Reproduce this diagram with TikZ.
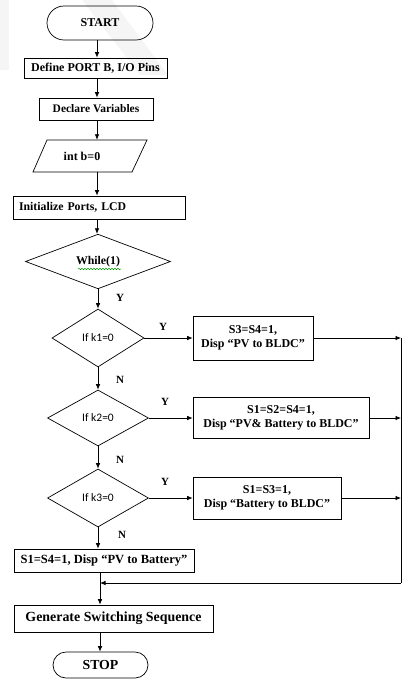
\documentclass[tikz,border=0pt]{standalone}
\usepackage{fontspec}
\setmainfont{Liberation Serif}
\newfontfamily\calfont{Carlito}
\usetikzlibrary{shapes.geometric,arrows.meta,decorations.pathmorphing}
\begin{document}
\begin{tikzpicture}[x=1pt,y=-1pt,
 box/.style={draw,line width=0.7pt,inner sep=0pt,font=\bfseries\fontsize{12}{13.5}\selectfont,align=center},
 term/.style={box,font=\bfseries\fontsize{12}{13}\selectfont},
 dec/.style={draw,diamond,line width=0.7pt,inner sep=0pt,font=\calfont\fontsize{11.5}{12}\selectfont},
 arr/.style={line width=0.7pt,-{Latex[length=5.5pt,width=4.5pt]}},
 lin/.style={line width=0.7pt},
 lbl/.style={font=\bfseries\fontsize{11}{12}\selectfont}]
\useasboundingbox (0,0) rectangle (404,679);
% faint watermark
\fill[gray!8] (0,0) rectangle (9,70);
\fill[gray!8] (82,0) -- (112,0) -- (168,75) -- (140,75) -- cycle;

\coordinate (spine) at (97,0);
\coordinate (lowspine) at (100,0);
\coordinate (bustop) at (401,338);
\coordinate (busbot) at (401,583);

\node[term,minimum width=106pt,minimum height=34pt,rounded corners=17pt] (start) at (100,23) {START};
\node[box,minimum width=143pt,minimum height=20pt] (define) at (95.5,68) {Define PORT B, I/O Pins};
\node[box,minimum width=114pt,minimum height=22pt,font=\bfseries\fontsize{11.5}{12}\selectfont] (declare) at (96,109) {\raisebox{-3pt}{Declare Variables}};
\node[inner sep=0pt,minimum width=80pt,minimum height=32pt,font=\bfseries\fontsize{12}{13}\selectfont] (para) at (82,156) {int b=0};
\draw[lin] (47,140) -- (147,140) -- (132,172) -- (33,172) -- cycle;
\node[box,minimum width=172pt,minimum height=23pt,text width=160pt,align=left,font=\bfseries\fontsize{11.8}{13}\selectfont] (init) at (99,207.5) {Initialize Ports, LCD};
\node[dec,minimum width=145pt,minimum height=51pt,font=\bfseries\fontsize{11.8}{12}\selectfont] (while) at (98,261.5) {While(1)};
\draw[green!60!black,line width=0.5pt,decorate,decoration={snake,amplitude=0.7pt,segment length=3pt}] (78,269) -- (121,269);

\node[dec,minimum width=92pt,minimum height=58pt] (k1) at (98,338) {If k1=0};
\node[dec,minimum width=101pt,minimum height=56pt] (k2) at (98,418) {If k2=0};
\node[dec,minimum width=101pt,minimum height=58pt] (k3) at (98,498) {If k3=0};

\node[box,minimum width=120pt,minimum height=44pt] (b1) at (253,338) {S3=S4=1,\\Disp “PV to BLDC”};
\node[box,minimum width=176pt,minimum height=41pt] (b2) at (281,418) {S1=S2=S4=1,\\Disp “PV\& Battery to BLDC”};
\node[box,minimum width=148pt,minimum height=42pt] (b3) at (267,498) {S1=S3=1,\\Disp “Battery to BLDC”};

\node[box,minimum width=180pt,minimum height=23pt,font=\bfseries\fontsize{12.5}{13}\selectfont] (s4) at (104,560.5) {S1=S4=1, Disp “PV to Battery”};
\node[box,minimum width=199pt,minimum height=27pt,font=\bfseries\fontsize{13.9}{15}\selectfont] (gen) at (113.5,618.5) {Generate Switching Sequence};
\node[term,minimum width=95pt,minimum height=26pt,rounded corners=13pt,font=\bfseries\fontsize{13.8}{15}\selectfont] (stop) at (100.5,665) {STOP};

% connectors
\draw[arr] (start.south -| spine) -- (define.north -| spine);
\draw[arr] (define.south -| spine) -- (declare.north -| spine);
\draw[arr] (declare.south -| spine) -- (para.north -| spine);
\draw[arr] (para.south -| spine) -- (init.north -| spine);
\draw[arr] (init.south -| spine) -- (while.north -| spine);
\draw[arr] (while.south) -- (k1.north);
\draw[arr] (k1.south) -- (k2.north);
\draw[arr] (k2.south) -- (k3.north);
\draw[arr] (k3.south) -- (k3.south |- s4.north);
\draw[arr] (k1.east) -- (b1.west);
\draw[arr] (k2.east) -- (b2.west);
\draw[arr] (k3.east) -- (b3.west);
\draw[arr] (b1.east) -- (bustop);
\draw[arr] (b2.east) -- (b2.east -| bustop);
\draw[arr] (b3.east) -- (b3.east -| bustop);
\draw[lin] (bustop) -- (busbot);
\draw[arr] (busbot) -- (busbot -| lowspine);
\draw[arr] (s4.south -| lowspine) -- (gen.north -| lowspine);
\draw[arr] (gen.south -| lowspine) -- (stop.north -| lowspine);

% labels
\node[lbl] (y0) at (120,298) {Y};
\node[lbl] (y1) at (163,327) {Y};
\node[lbl] (n1) at (120,380) {N};
\node[lbl] (y2) at (165,402) {Y};
\node[lbl] (n2) at (120,460) {N};
\node[lbl] (y3) at (165,482) {Y};
\node[lbl] (n3) at (122,535) {N};
\end{tikzpicture}
\end{document}
